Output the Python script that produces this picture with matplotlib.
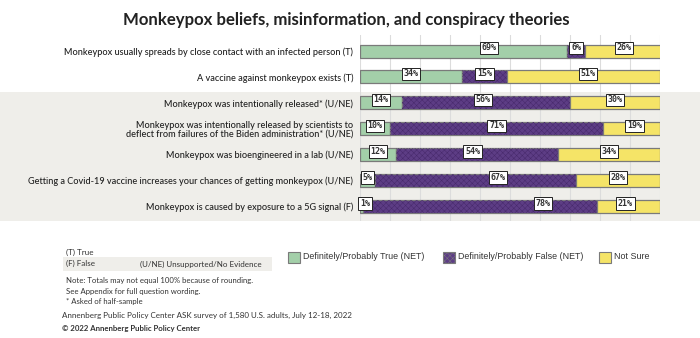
import numpy as np
import matplotlib
matplotlib.use("Agg")
from matplotlib import pyplot as plt
from matplotlib.patches import Rectangle

# ---------------- data
statements = [
    "Monkeypox usually spreads by close contact with an infected person (T)",
    "A vaccine against monkeypox exists (T)",
    "Monkeypox was intentionally released* (U/NE)",
    "Monkeypox was intentionally released by scientists to\ndeflect from failures of the Biden administration* (U/NE)",
    "Monkeypox was bioengineered in a lab (U/NE)",
    "Getting a Covid-19 vaccine increases your chances of getting monkeypox (U/NE)",
    "Monkeypox is caused by exposure to a 5G signal (F)",
]
true_net = [69, 34, 14, 10, 12, 5, 1]
false_net = [6, 15, 56, 71, 54, 67, 78]
not_sure = [26, 51, 30, 19, 34, 28, 21]
series_names = ["Definitely/Probably True (NET)", "Definitely/Probably False (NET)", "Not Sure"]

# label nudges (percent points) where the original labels sit off-centre
nudge = [[8.5, 0, 0], [0, 0, 1.5], [0, -1, 0], [0, 0, 1], [0, -1.5, 0], [0, 7.5, 0], [0, 21, -1]]

colors = ["#a3cfa9", "#5d3d85", "#f5e467"]
edge = "#7a7a7a"
band = "#efeeea"

plt.rcParams['font.family'] = ['Lato', 'DejaVu Sans']
plt.rcParams['hatch.linewidth'] = 0.35

W, H = 700, 338
fig = plt.figure(figsize=(W / 100, H / 100), dpi=100)

def fx(px):
    return px / W

def fy(py):
    return 1 - py / H

# grey band behind the unsupported / false rows (own background axes)
bg = fig.add_axes([0, 0, 1, 1], zorder=-10)
bg.set_xlim(0, W)
bg.set_ylim(H, 0)
bg.axis("off")
bg.add_patch(Rectangle((0, 92), W, 129, facecolor=band, edgecolor="none"))
bg.add_patch(Rectangle((63, 257), 209, 14, facecolor=band, edgecolor="none"))

ax = fig.add_axes([fx(360), fy(221), fx(300), fy(35) - fy(221)], zorder=1)
ax.set_facecolor("none")
ax.set_xlim(0, 100)
ax.set_ylim(6.56, -0.62)
for s in ax.spines.values():
    s.set_visible(False)
ax.set_xticks(np.arange(0, 101, 10))
ax.tick_params(axis="x", length=0, labelbottom=False)
ax.grid(axis="x", color="#dcdcdc", linewidth=0.8, zorder=0)
ax.set_axisbelow(True)

y = np.arange(len(statements))
vals = np.array([true_net, false_net, not_sure])
left = np.zeros(len(statements))
for k in range(3):
    ax.barh(y, vals[k], left=left, height=0.5, color=colors[k], edgecolor=edge,
            linewidth=0.9, zorder=2, label=series_names[k])
    if k == 1:
        ax.barh(y, vals[k], left=left, height=0.5, color="none", edgecolor="#47296b",
                linewidth=0, hatch="xxxxxx", zorder=3)
    for i in range(len(statements)):
        cx = left[i] + vals[k][i] / 2 + nudge[i][k]
        if vals[k][i] <= 5:
            cx = left[i] + max(vals[k][i] / 2, 1.7) + nudge[i][k]
        ax.text(cx, y[i] - 0.12, f"{vals[k][i]}%", ha="center", va="center",
                fontsize=6.0, family="DejaVu Sans Mono", fontweight="bold", color="#333333",
                zorder=5, bbox=dict(boxstyle="square,pad=0.2", facecolor="white",
                                    edgecolor="#222222", linewidth=0.7))
    left = left + vals[k]

ax.set_yticks(y)
ax.set_yticklabels(statements, fontsize=6.6, color="#1e1e1e", linespacing=1.15,
                   fontweight="medium")
ax.tick_params(axis="y", length=0, pad=5)

# title
fig.text(fx(346), fy(20), "Monkeypox beliefs, misinformation, and conspiracy theories",
         ha="center", va="center", fontsize=12.1, fontweight="bold", color="#222222")

# key box
fig.text(fx(66), fy(252), "(T) True", fontsize=5.8, va="center", color="#333333")
fig.text(fx(66), fy(263), "(F) False", fontsize=5.8, va="center", color="#333333")
fig.text(fx(140), fy(264), "(U/NE) Unsupported/No Evidence", fontsize=5.8, va="center", color="#333333")

# legend
leg_x = [288, 443, 599]
for k in range(3):
    fig.patches.append(Rectangle((fx(leg_x[k]), fy(263)), fx(12), fy(252) - fy(263),
                                 transform=fig.transFigure, facecolor=colors[k],
                                 edgecolor=edge, linewidth=0.8, hatch="xxxxxx" if k == 1 else None))
    fig.text(fx(leg_x[k] + 15), fy(256.5), series_names[k], fontsize=6.4, va="center",
             family="Liberation Sans", color="#333333")

# notes
notes = ["Note: Totals may not equal 100% because of rounding.",
         "See Appendix for full question wording.",
         "* Asked of half-sample"]
for j, t in enumerate(notes):
    fig.text(fx(66), fy(281 + j * 10.2), t, fontsize=5.6, va="center", color="#333333")
fig.text(fx(62), fy(315), "Annenberg Public Policy Center ASK survey of 1,580 U.S. adults, July 12-18, 2022",
         fontsize=5.75, va="center", color="#333333")
fig.text(fx(62), fy(329), "\u00a9 2022 Annenberg Public Policy Center", fontsize=5.6,
         fontweight="bold", va="center", color="#333333")

fig.savefig("out.png", dpi=100)
